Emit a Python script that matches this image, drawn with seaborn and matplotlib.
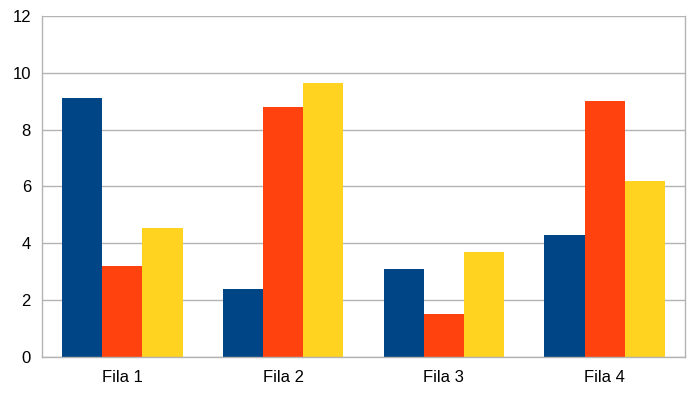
import matplotlib
matplotlib.use('Agg')
import matplotlib.pyplot as plt
import seaborn as sns
import pandas as pd
import numpy as np

categories = ['Fila 1', 'Fila 2', 'Fila 3', 'Fila 4']
series = ['Columna 1', 'Columna 2', 'Columna 3']
col1 = [9.1, 2.4, 3.1, 4.3]
col2 = [3.2, 8.8, 1.5, 9.0]
col3 = [4.55, 9.65, 3.7, 6.2]
colors = ['#004586', '#ff420e', '#ffd320']

df = pd.DataFrame({
    'Fila': categories * 3,
    'Serie': [s for s in series for _ in categories],
    'Valor': col1 + col2 + col3,
})

sns.set_style("white")
plt.rcParams['font.family'] = ['Liberation Sans', 'DejaVu Sans']

fig = plt.figure(figsize=(7, 3.93), dpi=100)
ax = fig.add_axes([42/700, 1 - 357/393, (685-42)/700, (357-16)/393])

sns.barplot(data=df, x='Fila', y='Valor', hue='Serie', order=categories,
            hue_order=series, palette=colors, width=0.75, gap=0,
            saturation=1, edgecolor='none', linewidth=0, legend=False, ax=ax)

ax.set_xlim(-0.5, 3.5)
ax.set_ylim(0, 12)
ax.set_yticks(np.arange(0, 13, 2))
ax.yaxis.grid(True, color='#b3b3b3', linewidth=1)
ax.set_axisbelow(True)

# category boundaries as major ticks, labels on minor ticks
ax.set_xticks(np.arange(-0.5, 4, 1))
ax.set_xticklabels([])
ax.set_xticks(range(len(categories)), minor=True)
ax.set_xticklabels(categories, minor=True, fontsize=12)
ax.tick_params(axis='x', which='major', length=5, color='#b3b3b3', width=1)
ax.tick_params(axis='x', which='minor', length=0, pad=9, labelcolor='black')
ax.tick_params(axis='y', length=5, color='#b3b3b3', width=1, labelsize=12,
               pad=3, labelcolor='black')

for side in ['left', 'right', 'bottom']:
    ax.spines[side].set_visible(True)
    ax.spines[side].set_color('#b3b3b3')
    ax.spines[side].set_linewidth(1)
ax.spines['top'].set_visible(False)

ax.set_xlabel('')
ax.set_ylabel('')

fig.savefig('out.png', dpi=100)
